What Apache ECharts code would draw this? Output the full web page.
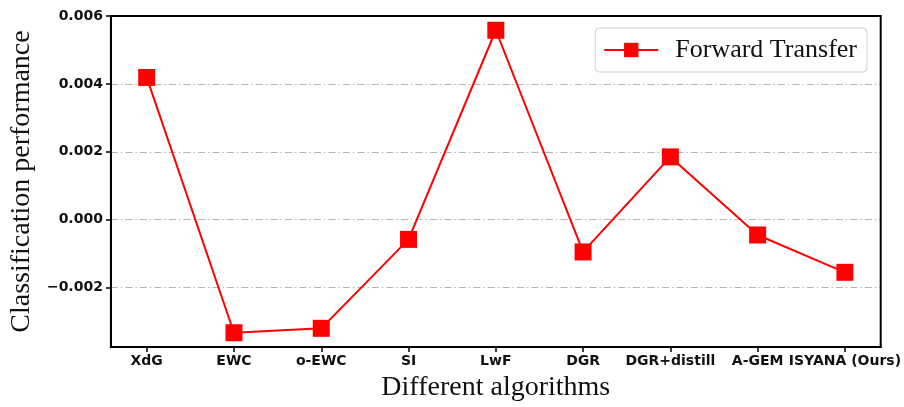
<!DOCTYPE html>
<html>
<head>
<meta charset="utf-8">
<script src="https://cdn.jsdelivr.net/npm/echarts@6/dist/echarts.min.js"></script>
<style>html,body{margin:0;padding:0;background:#fff;}#c{width:904px;height:407px;}</style>
</head>
<body>
<div id="c"></div>
<script>
const categories = ['XdG','EWC','o-EWC','SI','LwF','DGR','DGR+distill','A-GEM','ISYANA (Ours)'];
const forwardTransfer = [0.00419, -0.00333, -0.00320, -0.00058, 0.00558, -0.00095, 0.00185, -0.00045, -0.00155];
const yTicks = [-0.002, 0.000, 0.002, 0.004, 0.006];
const xTicks = categories.map((c, i) => i);

const chart = echarts.init(document.getElementById('c'), null, {renderer: 'canvas'});
const sans = 'DejaVu Sans';
const serif = 'Liberation Serif';
chart.setOption({
  animation: false,
  backgroundColor: '#fff',
  grid: {left: 110, right: 23, top: 16, bottom: 57.5, show: true, borderColor: '#000', borderWidth: 2, backgroundColor: 'transparent', z: 10},
  legend: {
    right: 37, top: 28,
    data: ['Forward Transfer'],
    itemWidth: 54, itemHeight: 18,
    padding: [9, 10, 9, 8],
    borderColor: '#d0d0d0', borderWidth: 1, borderRadius: 4,
    backgroundColor: '#fff',
    textStyle: {fontFamily: serif, fontSize: 26, color: '#111', padding: [0, 0, 0, 12]}
  },
  xAxis: {
    type: 'value', min: -0.41, max: 8.41,
    name: 'Different algorithms', nameLocation: 'middle', nameGap: 27,
    nameTextStyle: {fontFamily: serif, fontSize: 28, color: '#111'},
    axisLine: {show: true, onZero: false, lineStyle: {color: '#000', width: 2}},
    axisTick: {show: true, customValues: xTicks, length: 5, lineStyle: {color: '#000', width: 1.5}},
    axisLabel: {customValues: xTicks, margin: 7, fontFamily: sans, fontWeight: 'bold', fontSize: 14, color: '#111',
      formatter: v => categories[Math.round(v)] || ''},
    splitLine: {show: false}
  },
  yAxis: {
    type: 'value', min: -0.00375, max: 0.006,
    name: 'Classification performance', nameLocation: 'middle', nameGap: 66,
    nameTextStyle: {fontFamily: serif, fontSize: 28, color: '#111'},
    axisLine: {show: true, onZero: false, lineStyle: {color: '#000', width: 2}},
    axisTick: {show: true, customValues: yTicks, length: 5, lineStyle: {color: '#000', width: 1.5}},
    axisLabel: {customValues: yTicks, margin: 8, fontFamily: sans, fontWeight: 'bold', fontSize: 14, color: '#111',
      formatter: v => (v < -1e-12 ? '\u2212' : '') + Math.abs(v).toFixed(3)},
    splitLine: {show: true, lineStyle: {color: '#b5b5b5', width: 1, type: [7, 3, 1.5, 3]}}
  },
  series: [{
    name: 'Forward Transfer',
    type: 'line',
    data: forwardTransfer.map((v, i) => [i, v]),
    symbol: 'rect', symbolSize: 17,
    itemStyle: {color: '#ff0000'},
    lineStyle: {color: '#ff0000', width: 2},
    z: 5
  }]
});
</script>
</body>
</html>
